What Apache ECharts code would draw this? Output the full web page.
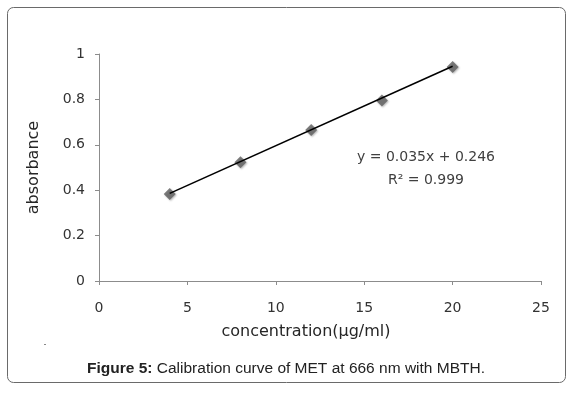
<!DOCTYPE html>
<html><head><meta charset="utf-8">
<script src="https://cdn.jsdelivr.net/npm/echarts@6/dist/echarts.min.js"></script>
<style>html,body{margin:0;padding:0;background:#fff}#c{width:572px;height:393px}</style>
</head><body><div id="c"></div>
<script>
const concentration = [4, 8, 12, 16, 20];
const absorbance = [0.383, 0.523, 0.665, 0.795, 0.943];
const trendX = [4, 20];
const trendY = [0.386, 0.946];
const xTicks = [0, 5, 10, 15, 20, 25];
const yTicks = [0, 0.2, 0.4, 0.6, 0.8, 1];
const equationLines = ['y = 0.035x + 0.246', 'R² = 0.999'];

const chart = echarts.init(document.getElementById('c'), null, {renderer: 'canvas'});
const axisFont = '"DejaVu Sans", sans-serif';
chart.setOption({
  animation: false,
  backgroundColor: '#fff',
  grid: {left: 99, top: 54, right: 31, bottom: 112},
  xAxis: {
    type: 'value', min: xTicks[0], max: xTicks[xTicks.length - 1], interval: 5,
    axisLine: {lineStyle: {color: '#8c8c8c', width: 1}},
    axisTick: {show: true, length: 4, inside: false, lineStyle: {color: '#8c8c8c'}},
    splitLine: {show: false},
    axisLabel: {color: '#333', fontSize: 14, fontFamily: axisFont, margin: 20},
    name: 'concentration(µg/ml)', nameLocation: 'middle', nameGap: 43,
    nameTextStyle: {color: '#262626', fontSize: 16, fontFamily: axisFont, padding: [0, 28, 0, 0]}
  },
  yAxis: {
    type: 'value', min: yTicks[0], max: yTicks[yTicks.length - 1], interval: 0.2,
    axisLine: {show: true, lineStyle: {color: '#8c8c8c', width: 1}},
    axisTick: {show: true, length: 4, lineStyle: {color: '#8c8c8c'}},
    splitLine: {show: false},
    axisLabel: {color: '#333', fontSize: 14, fontFamily: axisFont, margin: 14},
    name: 'absorbance', nameLocation: 'middle', nameGap: 57, nameRotate: 90,
    nameTextStyle: {color: '#262626', fontSize: 16, fontFamily: axisFont}
  },
  series: [
    {
      type: 'line', data: trendX.map((x, i) => [x, trendY[i]]),
      showSymbol: false, symbol: 'none',
      lineStyle: {color: '#000', width: 1.6}, z: 3, silent: true
    },
    {
      type: 'scatter', data: concentration.map((x, i) => [x, absorbance[i]]),
      symbol: 'diamond', symbolSize: 12,
      itemStyle: {color: '#5e5e5e', shadowColor: 'rgba(0,0,0,0.35)', shadowBlur: 2, shadowOffsetX: 1, shadowOffsetY: 1},
      z: 2
    }
  ],
  graphic: [
    {type: 'rect', shape: {x: 7.5, y: 7.5, width: 558, height: 375, r: 6}, style: {fill: 'none', stroke: '#6a6a6a', lineWidth: 1}, z: -1},
    {type: 'text', x: 426, y: 157, style: {text: equationLines[0], fill: '#404040', font: '14px "DejaVu Sans", sans-serif', align: 'center', verticalAlign: 'middle'}},
    {type: 'text', x: 426, y: 180, style: {text: equationLines[1], fill: '#404040', font: '14px "DejaVu Sans", sans-serif', align: 'center', verticalAlign: 'middle'}},
    {type: 'rect', shape: {x: 44, y: 344, width: 2, height: 1}, style: {fill: '#888'}},
    {type: 'text', x: 286, y: 369, style: {
      text: '{b|Figure 5:} Calibration curve of MET at 666 nm with MBTH.',
      align: 'center', verticalAlign: 'middle',
      rich: {b: {fontWeight: 'bold', fontSize: 15.5, fontFamily: '"Liberation Sans", Arial, sans-serif', fill: '#222'}},
      font: '15.5px "Liberation Sans", Arial, sans-serif', fill: '#222'
    }}
  ]
});
</script></body></html>
